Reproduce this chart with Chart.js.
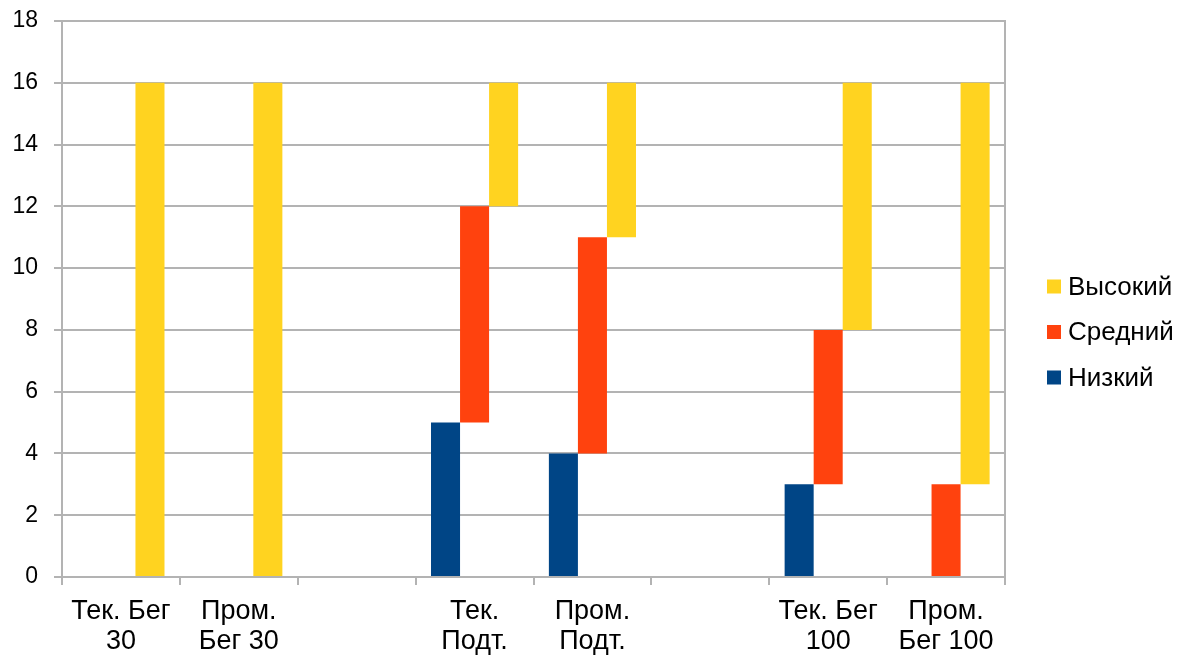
<!DOCTYPE html>
<html>
<head>
<meta charset="utf-8">
<script src="https://cdn.jsdelivr.net/npm/chart.js@4/dist/chart.umd.min.js"></script>
<style>
html,body{margin:0;padding:0;background:#fff;}
#wrap{position:relative;width:1180px;height:658px;}
</style>
</head>
<body>
<div id="wrap"><canvas id="c" width="1180" height="658"></canvas></div>
<script>
const categories = [["Тек. Бег","30"],["Пром.","Бег 30"],"",["Тек.","Подт."],["Пром.","Подт."],"",["Тек. Бег","100"],["Пром.","Бег 100"]];
const seriesNames = ["Низкий","Средний","Высокий"];
const nizkiy  = [null,null,null,[0,5],[0,4],null,[0,3],null];
const sredniy = [null,null,null,[5,12],[4,11],null,[3,8],[0,3]];
const vysokiy = [[0,16],[0,16],null,[12,16],[11,16],null,[8,16],[3,16]];
const yTicks = {min:0, max:18, step:2};

const colors = ["#004586","#ff420e","#ffd320"];
const gridColor = "#b3b3b3";
const fontFam = "'Liberation Sans', Arial, sans-serif";

// Legend drawn to the right of the plot (reverse order, like the original)
const sideLegend = {
  id: 'sideLegend',
  afterDraw(chart) {
    const ctx = chart.ctx;
    const ca = chart.chartArea;
    const ds = chart.data.datasets.slice().reverse();
    const step = 45.5;
    const cy = chart.height / 2 + 3;
    const x0 = ca.right + 42;
    ctx.save();
    ctx.font = "26px " + fontFam;
    ctx.textBaseline = 'middle';
    ctx.textAlign = 'left';
    ds.forEach((d, i) => {
      const y = cy + (i - (ds.length - 1) / 2) * step;
      ctx.fillStyle = d.backgroundColor;
      ctx.fillRect(x0, y - 7, 14, 14);
      ctx.fillStyle = '#000';
      ctx.fillText(d.label, x0 + 21, y + 1);
    });
    ctx.restore();
  }
};

new Chart(document.getElementById('c'), {
  type: 'bar',
  data: {
    labels: categories,
    datasets: [
      {label: seriesNames[0], data: nizkiy, backgroundColor: colors[0]},
      {label: seriesNames[1], data: sredniy, backgroundColor: colors[1]},
      {label: seriesNames[2], data: vysokiy, backgroundColor: colors[2]}
    ]
  },
  plugins: [sideLegend],
  options: {
    responsive: false,
    animation: false,
    categoryPercentage: 0.739,
    barPercentage: 1.0,
    layout: {padding: {top: 21, right: 175, bottom: 0, left: 0}},
    font: {family: fontFam, size: 24},
    color: '#000',
    plugins: {
      tooltip: {enabled: false},
      legend: {display: false}
    },
    scales: {
      x: {
        grid: {display: true, drawOnChartArea: false, drawTicks: true, tickLength: 8, offset: true, color: gridColor, lineWidth: 2},
        border: {display: true, color: gridColor, width: 2},
        ticks: {font: {family: fontFam, size: 27, lineHeight: 1.1}, color: '#000', padding: 12, maxRotation: 0, autoSkip: false},
        afterFit: s => { s.height = 81; s.paddingLeft = 0; s.paddingRight = 0; }
      },
      y: {
        min: yTicks.min, max: yTicks.max,
        grid: {color: gridColor, lineWidth: 2, tickLength: 8, drawTicks: true},
        border: {display: true, color: gridColor, width: 2},
        ticks: {stepSize: yTicks.step, font: {family: fontFam, size: 23}, color: '#000', padding: 16},
        afterFit: s => { s.width = 62; s.paddingTop = 0; s.paddingBottom = 0; }
      },
      y2: {
        position: 'right',
        min: yTicks.min, max: yTicks.max,
        grid: {drawOnChartArea: false, drawTicks: false},
        border: {display: true, color: gridColor, width: 2},
        ticks: {display: false},
        afterFit: s => { s.width = 0; s.paddingTop = 0; s.paddingBottom = 0; }
      }
    }
  }
});
</script>
</body>
</html>
